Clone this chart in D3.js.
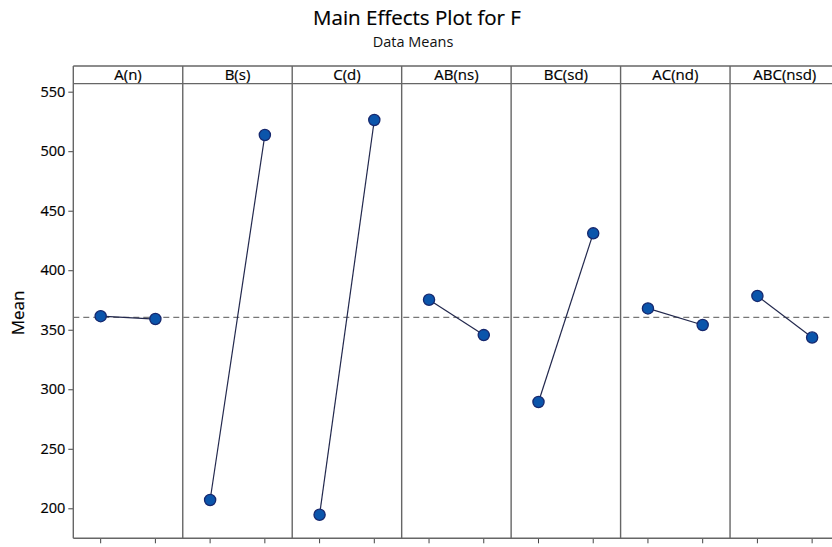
<!DOCTYPE html>
<html>
<head>
<meta charset="utf-8">
<script src="https://cdn.jsdelivr.net/npm/d3@7"></script>
<style>
  html, body { margin: 0; padding: 0; background: #fff; }
  svg { display: block; font-family: "Open Sans", "Noto Sans", sans-serif; }
  text.heavy { stroke: currentColor; stroke-width: 0.2px; paint-order: fill; }
</style>
</head>
<body>
<svg id="chart" width="832" height="547"></svg>
<script>
// Factor panels and their level means
const factors = ["A(n)", "B(s)", "C(d)", "AB(ns)", "BC(sd)", "AC(nd)", "ABC(nsd)"];
const levels = ["-1", "1"];
const lowMeans = [361.4, 207.0, 194.6, 375.2, 289.3, 367.9, 378.4];
const highMeans = [359.0, 513.6, 526.2, 345.5, 431.0, 354.0, 343.5];
const grandMean = 360.4;
const yTicks = [200, 250, 300, 350, 400, 450, 500, 550];

const svg = d3.select("#chart").style("color", "#000");

const plotLeft = 73.3, plotRight = 839.5, stripTop = 66, plotTop = 83.7, plotBottom = 538.3;

const panel = d3.scaleBand().domain(factors).range([plotLeft, plotRight]).padding(0);
const lvl = d3.scalePoint().domain(levels).range([0, panel.bandwidth()]).padding(0.5);
const y = d3.scaleLinear().domain([174.8, 556.7]).range([plotBottom, plotTop]);

// Titles
svg.append("text").attr("class", "heavy").attr("x", 417).attr("y", 25).attr("text-anchor", "middle")
  .attr("font-size", 20.5).attr("fill", "#000").text("Main Effects Plot for F");
svg.append("text").attr("x", 413).attr("y", 47).attr("text-anchor", "middle")
  .attr("font-size", 14.5).attr("fill", "#111").text("Data Means");

// Y axis
const yAxis = d3.axisLeft(y).tickValues(yTicks).tickSize(5).tickPadding(3);
const ya = svg.append("g").attr("transform", `translate(${plotLeft},0)`).call(yAxis);
ya.select(".domain").remove();
ya.selectAll(".tick line").attr("stroke", "#444");
ya.selectAll(".tick text").attr("class", "heavy").attr("font-size", 14.5).attr("fill", "#000")
  .attr("font-family", "'Open Sans', 'Noto Sans', sans-serif");

svg.append("text").attr("class", "heavy")
  .attr("transform", `translate(24,${(plotTop + plotBottom) / 2 + 2}) rotate(-90)`)
  .attr("text-anchor", "middle").attr("font-size", 17).attr("fill", "#000")
  .text("Mean");

// Bottom axis: ticks at each level position in every panel
const xTicks = [];
factors.forEach(f => levels.forEach(l => xTicks.push(panel(f) + lvl(l))));
svg.append("g").selectAll("line").data(xTicks).join("line")
  .attr("x1", d => d).attr("x2", d => d)
  .attr("y1", plotBottom).attr("y2", plotBottom + 5)
  .attr("stroke", "#444").attr("stroke-width", 1);

// Grand mean reference line
svg.append("line")
  .attr("x1", plotLeft).attr("x2", plotRight)
  .attr("y1", y(grandMean)).attr("y2", y(grandMean))
  .attr("stroke", "#777").attr("stroke-width", 1.2)
  .attr("stroke-dasharray", "6,4");

// Panel strip headers
const g = svg.append("g").selectAll("g.panel").data(factors).join("g")
  .attr("class", "panel")
  .attr("transform", d => `translate(${panel(d)},0)`);

g.append("line").attr("x1", 0).attr("x2", panel.bandwidth())
  .attr("y1", plotTop).attr("y2", plotTop).attr("stroke", "#666").attr("stroke-width", 1.3);
g.append("text").attr("class", "heavy")
  .attr("x", panel.bandwidth() / 2).attr("y", (stripTop + plotTop) / 2 + 5.5)
  .attr("text-anchor", "middle").attr("font-size", 15).attr("fill", "#000")
  .text(d => d);

// Level means per panel
const pts = factors.map((f, i) => [
  { f, l: levels[0], v: lowMeans[i] },
  { f, l: levels[1], v: highMeans[i] }
]);
const line = d3.line().x(d => panel(d.f) + lvl(d.l)).y(d => y(d.v));

svg.append("g").selectAll("path").data(pts).join("path")
  .attr("d", line).attr("fill", "none")
  .attr("stroke", "#22284d").attr("stroke-width", 1.2);

svg.append("g").selectAll("circle").data(pts.flat()).join("circle")
  .attr("cx", d => panel(d.f) + lvl(d.l)).attr("cy", d => y(d.v))
  .attr("r", 5.6).attr("fill", "#0b55ab")
  .attr("stroke", "#16286e").attr("stroke-width", 1.3);

// Outer frame and panel dividers
svg.append("line").attr("x1", plotLeft).attr("x2", plotRight).attr("y1", stripTop).attr("y2", stripTop)
  .attr("stroke", "#666").attr("stroke-width", 1.3);
svg.append("line").attr("x1", plotLeft).attr("x2", plotRight).attr("y1", plotBottom).attr("y2", plotBottom)
  .attr("stroke", "#666").attr("stroke-width", 1.5);
svg.append("g").selectAll("line").data(d3.range(factors.length + 1)).join("line")
  .attr("x1", i => plotLeft + i * panel.bandwidth())
  .attr("x2", i => plotLeft + i * panel.bandwidth())
  .attr("y1", stripTop).attr("y2", plotBottom)
  .attr("stroke", "#666").attr("stroke-width", 1.4);
</script>
</body>
</html>
